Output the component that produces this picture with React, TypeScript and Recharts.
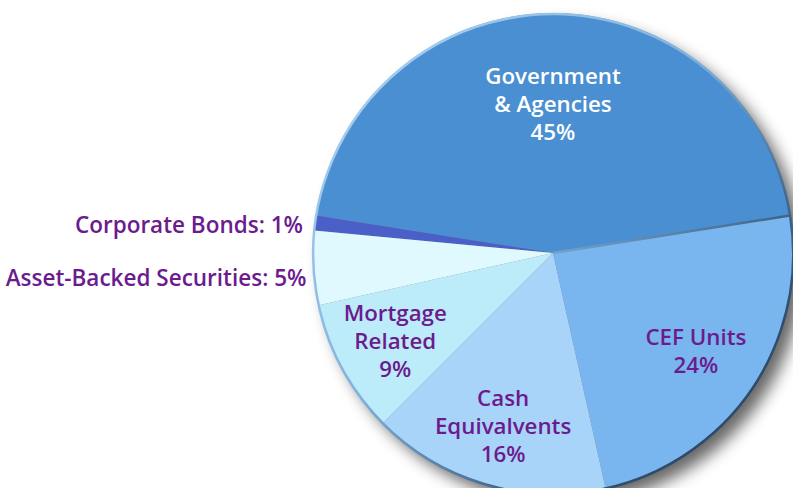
import { Cell, Pie, PieChart } from "recharts";

const names = [
  "Government & Agencies",
  "Corporate Bonds",
  "Asset-Backed Securities",
  "Mortgage Related",
  "Cash Equivalvents",
  "CEF Units",
];
const values = [45, 1, 5, 9, 16, 24];
const labelLines = [
  ["Government", "& Agencies", "45%"],
  ["Corporate Bonds: 1%"],
  ["Asset-Backed Securities: 5%"],
  ["Mortgage", "Related", "9%"],
  ["Cash", "Equivalvents", "16%"],
  ["CEF Units", "24%"],
];
const colors = ["#4a8fd1", "#4a5fc8", "#e0f9fe", "#bcecfa", "#a8d4f9", "#79b5ee"];

const data = names.map((name, i) => ({ name, value: values[i], lines: labelLines[i] }));
const outline = [{ name: "outline", value: 1 }];

// label placement per slice: inside radius factor, or outside (left) with y shift
const inside: Record<number, number> = { 0: 0.625, 3: 0.75, 4: 0.745, 5: 0.72 };
const outsideDy: Record<number, number> = { 1: 2, 2: 9 };

const PURPLE = "#6c1b8e";
const FONT = "'Open Sans', Lato, sans-serif";

function renderLabel(props: any) {
  const { cx, cy, midAngle, outerRadius, index, payload } = props;
  const rad = (Math.PI / 180) * midAngle;
  const lines: string[] = payload.lines;
  if (inside[index] !== undefined) {
    const r = outerRadius * inside[index];
    const x = cx + r * Math.cos(rad);
    const y = cy - r * Math.sin(rad);
    const lh = 28;
    const y0 = y - ((lines.length - 1) * lh) / 2;
    return (
      <text
        x={x}
        y={y0}
        textAnchor="middle"
        dominantBaseline="central"
        fill={index === 0 ? "#ffffff" : PURPLE}
        fontFamily={FONT}
        fontWeight={600}
        fontSize={22.3}
      >
        {lines.map((l, i) => (
          <tspan key={i} x={x} dy={i === 0 ? 0 : lh}>
            {l}
          </tspan>
        ))}
      </text>
    );
  }
  const x = cx + (outerRadius + 12) * Math.cos(rad);
  const y = cy - outerRadius * Math.sin(rad) + (outsideDy[index] || 0);
  return (
    <text
      x={index === 2 ? x + 5 : x}
      y={y}
      textAnchor="end"
      dominantBaseline="central"
      fill={PURPLE}
      fontFamily={FONT}
      fontWeight={600}
      fontSize={22.5}
    >
      {lines[0]}
    </text>
  );
}

export default function App() {
  return (
    <div style={{ position: "absolute", left: 0, top: 0, width: 793, height: 488, background: "#fff" }}>
      <svg width={0} height={0} style={{ position: "absolute" }}>
        <defs>
          <filter id="pieShadow" x="-20%" y="-20%" width="140%" height="140%">
            <feGaussianBlur in="SourceAlpha" stdDeviation="8" />
            <feOffset dx="10" dy="10" result="blur" />
            <feComponentTransfer>
              <feFuncA type="linear" slope="0.6" />
            </feComponentTransfer>
            <feMerge>
              <feMergeNode />
              <feMergeNode in="SourceGraphic" />
            </feMerge>
          </filter>
          <linearGradient id="rim" x1="0" y1="0" x2="1" y2="1">
            <stop offset="0%" stopColor="#b4d8f4" />
            <stop offset="45%" stopColor="#7fb0dc" />
            <stop offset="75%" stopColor="#34567a" />
            <stop offset="100%" stopColor="#1f3a58" />
          </linearGradient>
        </defs>
      </svg>
      <PieChart width={793} height={488} margin={{ top: 0, right: 0, bottom: 0, left: 0 }}>
        <Pie
          data={outline}
          dataKey="value"
          cx={553}
          cy={253}
          outerRadius={240}
          startAngle={9}
          endAngle={369}
          fill="#888"
          stroke="none"
          style={{ filter: "url(#pieShadow)" }}
          isAnimationActive={false}
        />
        <Pie
          data={data}
          dataKey="value"
          nameKey="name"
          cx={553}
          cy={253}
          outerRadius={240}
          startAngle={9}
          endAngle={369}
          stroke="none"
          label={renderLabel}
          labelLine={false}
          isAnimationActive={false}
        >
          {data.map((d, i) => (
            <Cell key={d.name} fill={colors[i]} />
          ))}
        </Pie>
        <Pie
          data={outline}
          dataKey="value"
          cx={553}
          cy={253}
          outerRadius={240}
          startAngle={9}
          endAngle={369}
          fill="none"
          stroke="url(#rim)"
          strokeWidth={2.5}
          isAnimationActive={false}
        />
      </PieChart>
    </div>
  );
}
